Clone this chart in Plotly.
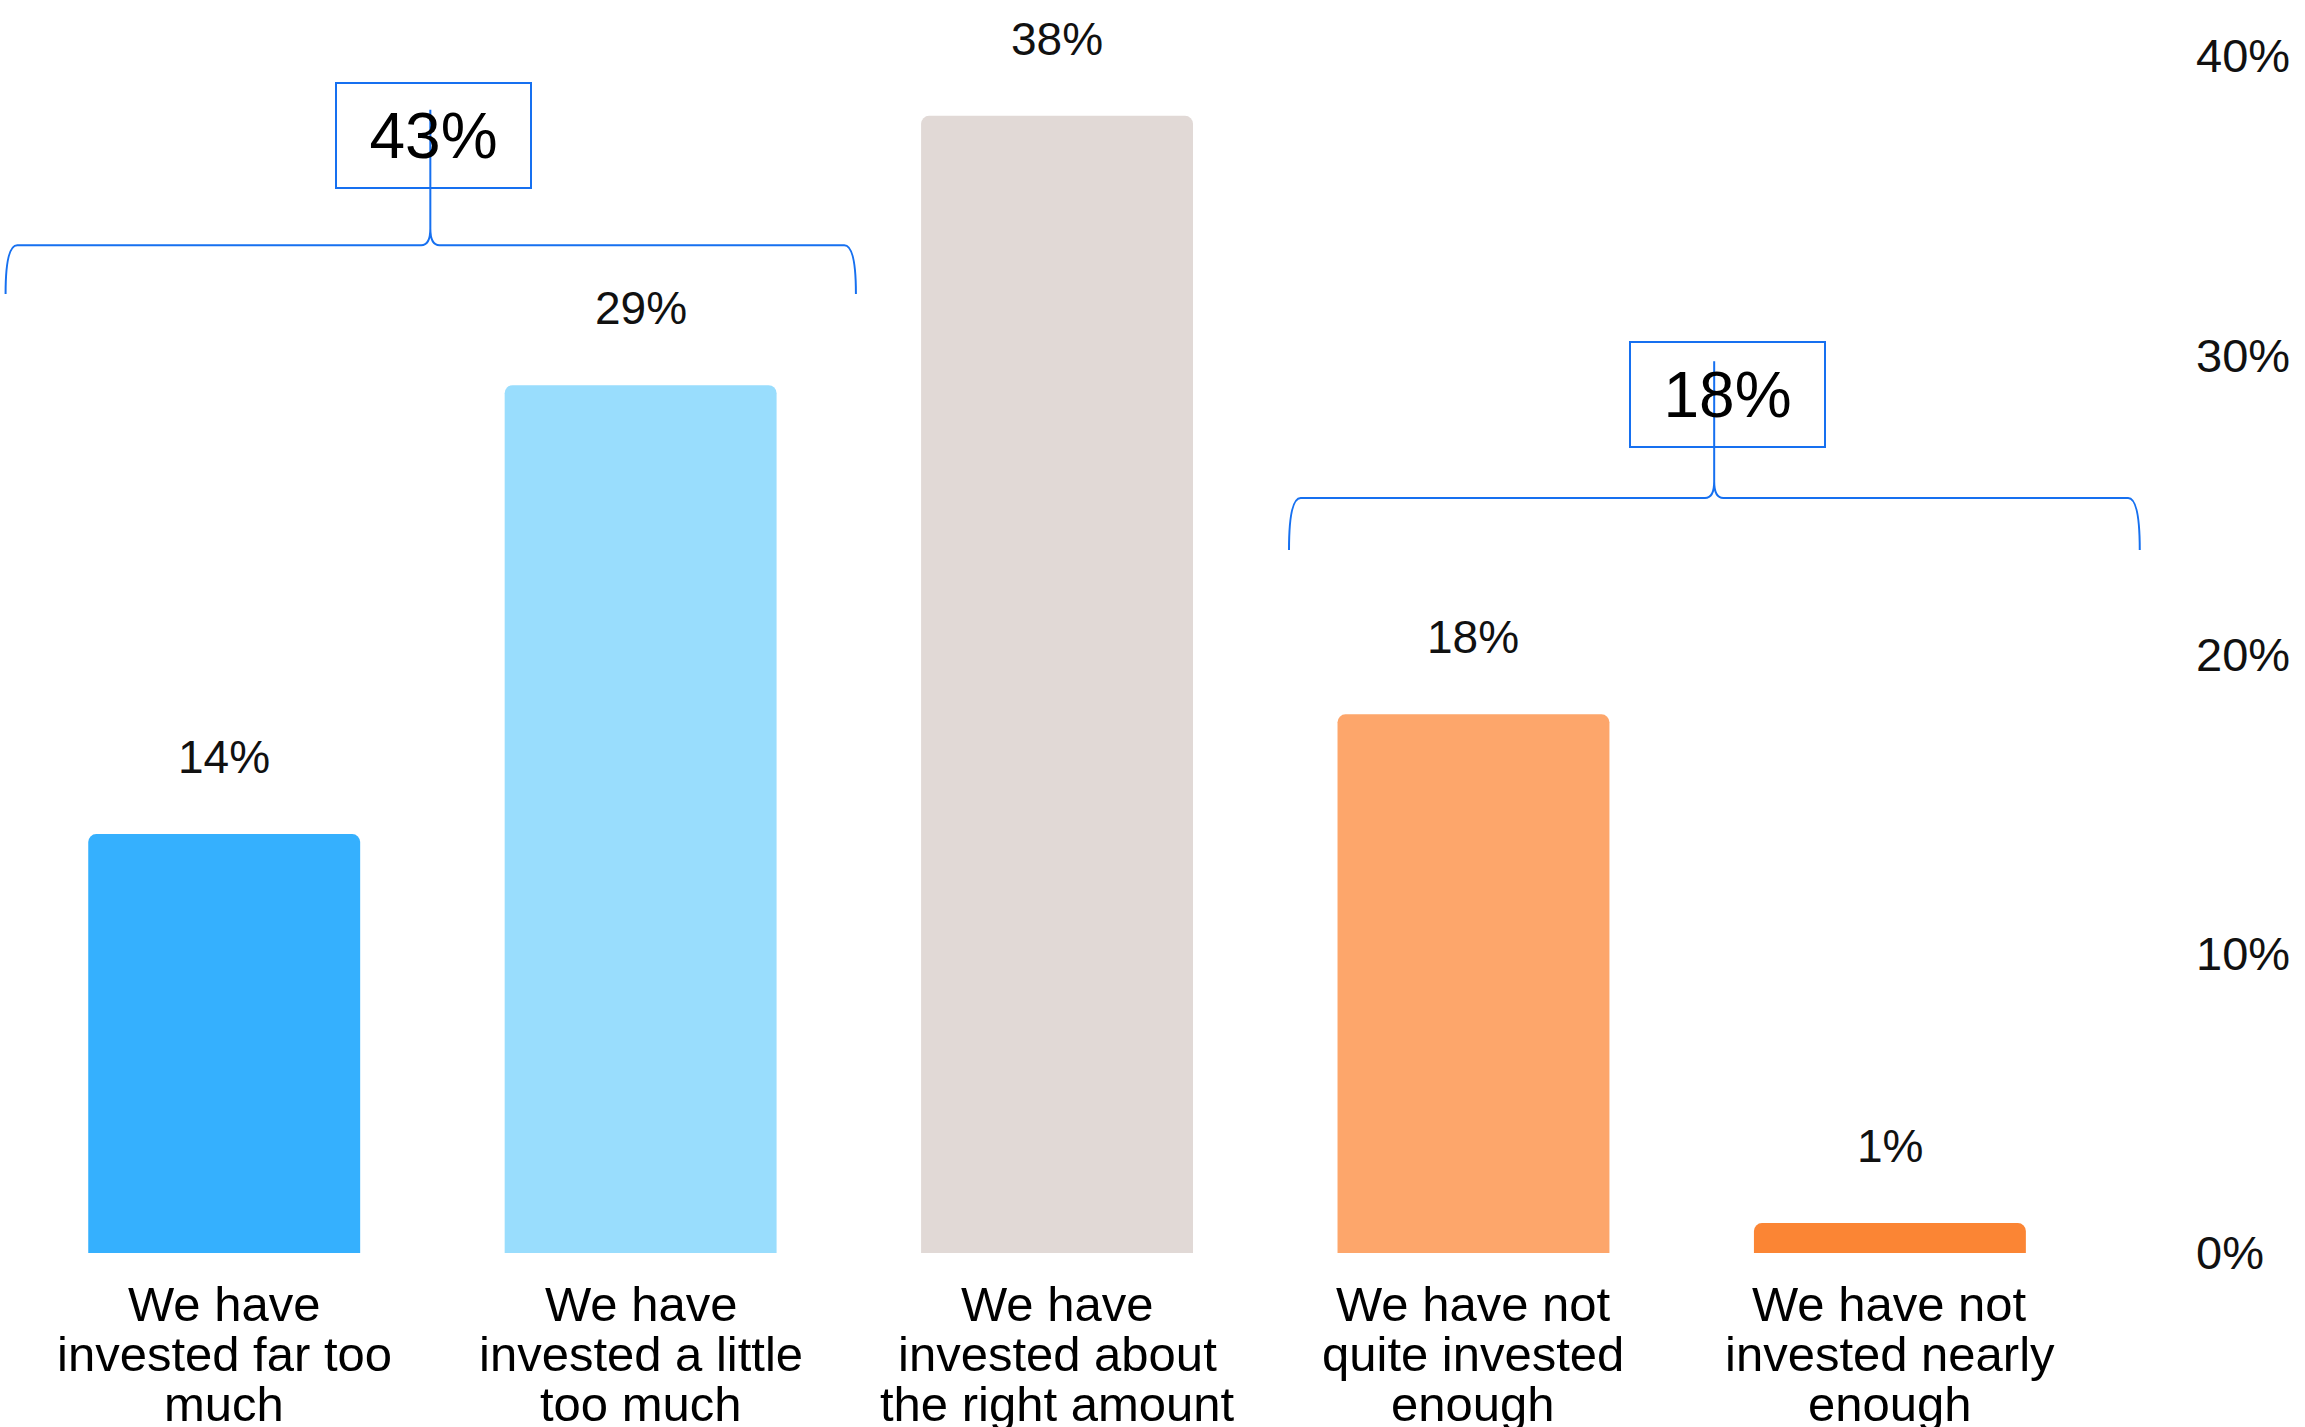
import plotly.graph_objects as go

# ---- data ----
categories = [
    "We have invested far too much",
    "We have invested a little too much",
    "We have invested about the right amount",
    "We have not quite invested enough",
    "We have not invested nearly enough",
]
label_lines = [
    ["We have", "invested far too", "much"],
    ["We have", "invested a little", "too much"],
    ["We have", "invested about", "the right amount"],
    ["We have not", "quite invested", "enough"],
    ["We have not", "invested nearly", "enough"],
]
values = [14, 29, 38, 18, 1]
bar_colors = ["#35B0FE", "#99DDFD", "#E1D9D6", "#FDA66B", "#FB8534"]
y_ticks = [0, 10, 20, 30, 40]
y_tick_labels = ["0%", "10%", "20%", "30%", "40%"]

# grouped totals (brackets)
group_labels = ["43%", "18%"]
group_left = [-0.525, 2.557]
group_right = [1.517, 4.60]
group_tip = [0.495, 3.578]
group_line_y = [33.68, 25.23]
group_end_y = [32.05, 23.49]
group_tip_top = [38.2, 29.8]
group_box_x = [0.5015, 3.611]
group_box_y = [37.33, 28.70]

FONT = "Liberation Sans, Arial, sans-serif"
BLUE = "#1670F0"

x_idx = list(range(len(categories)))

fig = go.Figure()
fig.add_trace(go.Bar(
    x=x_idx, y=values,
    marker=dict(color=bar_colors, line=dict(width=0), cornerradius=8),
    showlegend=False, hoverinfo="skip",
))

# value labels above bars
for xi, v in zip(x_idx, values):
    fig.add_annotation(x=xi, y=v, xref="x", yref="y", text=f"{v}%",
                       showarrow=False, yshift=77, yanchor="middle",
                       font=dict(family=FONT, size=46, color="#111111"))

# category labels, one annotation per line for tight line spacing
for xi, lines in zip(x_idx, label_lines):
    for k, line in enumerate(lines):
        fig.add_annotation(x=xi, y=0, xref="x", yref="paper", text=line,
                           showarrow=False, yanchor="middle",
                           yshift=-51 - 50 * k,
                           font=dict(family=FONT, size=49, color="#000000"))

# brackets
def brace_path(L, R, T, yH, yE, yTop):
    rx, cdx, cdy = 0.028, 0.022, 0.55
    return (
        f"M {L},{yE} Q {L},{yH} {L+rx},{yH} "
        f"L {T-cdx},{yH} Q {T},{yH} {T},{yH+cdy} "
        f"Q {T},{yH} {T+cdx},{yH} "
        f"L {R-rx},{yH} Q {R},{yH} {R},{yE} "
        f"M {T},{yH+cdy} L {T},{yTop}"
    )

for i in range(len(group_labels)):
    fig.add_shape(type="path", xref="x", yref="y",
                  path=brace_path(group_left[i], group_right[i], group_tip[i],
                                  group_line_y[i], group_end_y[i], group_tip_top[i]),
                  line=dict(color=BLUE, width=2), layer="above")
    fig.add_annotation(x=group_box_x[i], y=group_box_y[i], xref="x", yref="y",
                       text=group_labels[i], showarrow=False,
                       width=193, height=103, borderpad=0,
                       bordercolor=BLUE, borderwidth=2,
                       xanchor="center", yanchor="middle",
                       font=dict(family=FONT, size=64, color="#000000"))

fig.update_layout(
    width=2305, height=1427,
    margin=dict(l=1, r=144, t=56, b=174),
    paper_bgcolor="white", plot_bgcolor="white",
    bargap=0.347,
    xaxis=dict(range=[-0.536, 4.651], showticklabels=False, showgrid=False,
               zeroline=False, showline=False, ticks=""),
    yaxis=dict(range=[0, 40], side="right", tickvals=y_ticks, ticktext=y_tick_labels,
               showgrid=False, zeroline=False, showline=False, ticks="",
               ticklabelstandoff=34,
               tickfont=dict(family=FONT, size=47, color="#111111")),
)

fig.write_html("out.html")
